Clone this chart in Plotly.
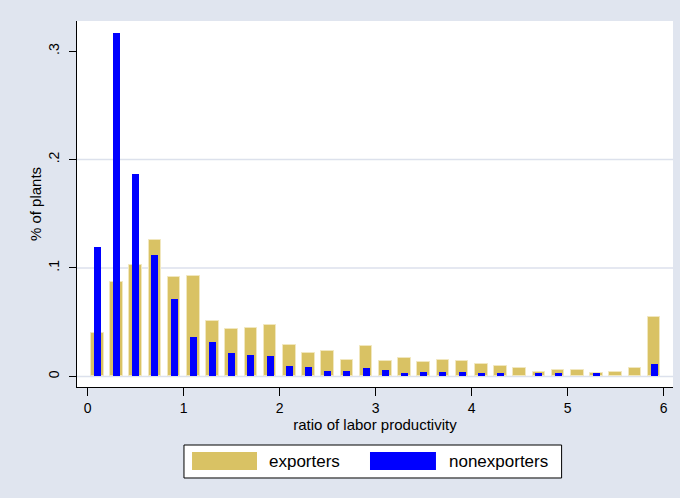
import plotly.graph_objects as go

# bin centres (ratio of labor productivity)
bins = [0.1, 0.3, 0.5, 0.7, 0.9, 1.1, 1.3, 1.5, 1.7, 1.9,
        2.1, 2.3, 2.5, 2.7, 2.9, 3.1, 3.3, 3.5, 3.7, 3.9,
        4.1, 4.3, 4.5, 4.7, 4.9, 5.1, 5.3, 5.5, 5.7, 5.9]

exporters = [0.040, 0.087, 0.103, 0.126, 0.092, 0.093, 0.051, 0.044, 0.045, 0.047,
             0.029, 0.022, 0.023, 0.015, 0.028, 0.014, 0.017, 0.013, 0.015, 0.014,
             0.011, 0.010, 0.008, 0.004, 0.0055, 0.0055, 0.003, 0.004, 0.008, 0.055]

nonexporters = [0.119, 0.317, 0.187, 0.112, 0.071, 0.036, 0.032, 0.022, 0.020, 0.019,
                0.010, 0.009, 0.005, 0.005, 0.008, 0.0055, 0.003, 0.004, 0.004, 0.004,
                0.003, 0.003, 0.0, 0.003, 0.003, 0.0, 0.003, 0.0, 0.0, 0.011]

x_ticks = [0, 1, 2, 3, 4, 5, 6]
y_ticks = [0, 0.1, 0.2, 0.3]
y_tick_text = ["0", ".1", ".2", ".3"]
grid_vals = [0, 0.1, 0.2]

TAN = "#D9C264"
BLUE = "#0000FF"
BG = "#E0E5EF"
FONT = "Liberation Sans, Arial, sans-serif"

fig = go.Figure()
fig.add_trace(go.Bar(x=bins, y=exporters, width=0.13, name="exporters",
                     marker=dict(color=TAN, line=dict(color="#F1E7BE", width=1)),
                     showlegend=False))
fig.add_trace(go.Bar(x=bins, y=nonexporters, width=0.072, name="nonexporters",
                     marker=dict(color=BLUE, line=dict(width=0)),
                     showlegend=False))

shapes = []
for g in grid_vals:
    shapes.append(dict(type="line", xref="paper", x0=0, x1=1, yref="y", y0=g, y1=g,
                       line=dict(color="#DCE1EC", width=1.5), layer="below"))

# custom legend (Stata style)
shapes.append(dict(type="rect", xref="paper", yref="paper", x0=0.1795, x1=0.8131,
                   y0=-0.2486, y1=-0.1585, fillcolor="white",
                   line=dict(color="black", width=1)))
shapes.append(dict(type="rect", xref="paper", yref="paper", x0=0.193, x1=0.302,
                   y0=-0.2268, y1=-0.1776, fillcolor=TAN, line=dict(width=0)))
shapes.append(dict(type="rect", xref="paper", yref="paper", x0=0.4916, x1=0.6023,
                   y0=-0.2268, y1=-0.1776, fillcolor=BLUE, line=dict(width=0)))

annotations = [
    dict(text="exporters", xref="paper", yref="paper", x=0.3188, y=-0.2022,
         xanchor="left", yanchor="middle", showarrow=False,
         font=dict(family=FONT, size=17, color="black")),
    dict(text="nonexporters", xref="paper", yref="paper", x=0.6208, y=-0.2022,
         xanchor="left", yanchor="middle", showarrow=False,
         font=dict(family=FONT, size=17, color="black")),
]

fig.update_layout(
    width=680, height=498,
    margin=dict(l=77, r=7, t=21, b=111),
    paper_bgcolor=BG, plot_bgcolor="white",
    barmode="overlay", bargap=0,
    font=dict(family=FONT, size=14, color="black"),
    shapes=shapes, annotations=annotations,
    xaxis=dict(range=[-0.111, 6.097], tickvals=x_ticks, showgrid=False, zeroline=False,
               showline=True, linecolor="black", linewidth=1.2,
               ticks="outside", ticklen=8, tickcolor="black", tickwidth=1.2,
               tickfont=dict(size=14),
               title=dict(text="ratio of labor productivity", font=dict(size=15), standoff=3)),
    yaxis=dict(range=[-0.0098, 0.3278], tickvals=y_ticks, ticktext=y_tick_text,
               showgrid=False, zeroline=False,
               showline=True, linecolor="black", linewidth=1.2,
               ticks="outside", ticklen=7, tickcolor="black", tickwidth=1.2,
               tickangle=-90, tickfont=dict(size=14), ticklabelstandoff=4,
               title=dict(text="% of plants", font=dict(size=15), standoff=1)),
)

fig.write_html("out.html", config={"displayModeBar": False},
               post_script="document.body.style.margin='0';document.body.style.overflow='hidden';")
